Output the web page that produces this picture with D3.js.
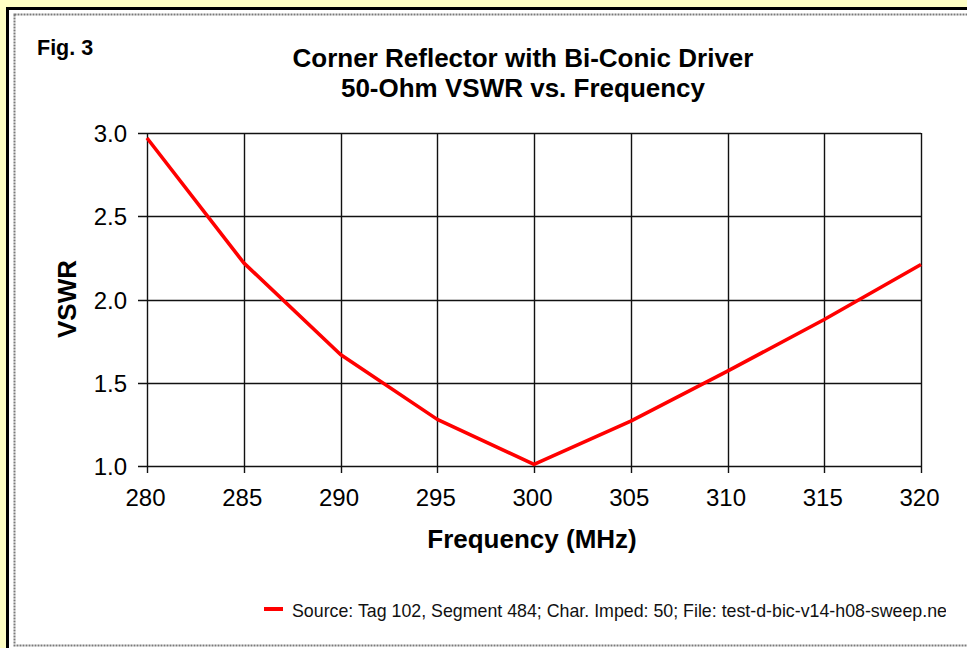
<!DOCTYPE html>
<html>
<head>
<meta charset="utf-8">
<script src="https://cdn.jsdelivr.net/npm/d3@7"></script>
<style>
  html, body { margin: 0; padding: 0; background: #FFFFC4; }
  svg { display: block; }
  text { font-family: Arial, "Liberation Sans", sans-serif; }
</style>
</head>
<body>
<script>
const freqs = [280, 285, 290, 295, 300, 305, 310, 315, 320];
const vswr  = [2.97, 2.22, 1.67, 1.28, 1.01, 1.27, 1.57, 1.88, 2.21];
const xTicks = [280, 285, 290, 295, 300, 305, 310, 315, 320];
const yTicks = [1.0, 1.5, 2.0, 2.5, 3.0];
const titleLines = ["Corner Reflector with Bi-Conic Driver", "50-Ohm VSWR vs. Frequency"];
const figLabel = "Fig. 3";
const xTitle = "Frequency (MHz)";
const yTitle = "VSWR";
const legendText = "Source: Tag 102, Segment 484; Char. Imped: 50; File: test-d-bic-v14-h08-sweep.nec";

const W = 967, H = 648;
const svg = d3.select("body").append("svg").attr("width", W).attr("height", H);

// background frame
svg.append("rect").attr("x", 0).attr("y", 0).attr("width", W).attr("height", H).attr("fill", "#FFFFC4");
svg.append("rect").attr("x", 6).attr("y", 7).attr("width", W + 20).attr("height", H + 20).attr("fill", "#000");
svg.append("rect").attr("x", 9).attr("y", 10).attr("width", W + 20).attr("height", H + 20).attr("fill", "#fff");
svg.append("rect").attr("x", 14.5).attr("y", 14.5).attr("width", W + 20).attr("height", 631)
  .attr("fill", "none").attr("stroke", "#7a7a7a").attr("stroke-width", 2).attr("stroke-dasharray", "2,1");

const m = { left: 147, right: 921, top: 133, bottom: 466 };
const x = d3.scaleLinear().domain([280, 320]).range([m.left, m.right]);
const y = d3.scaleLinear().domain([1.0, 3.0]).range([m.bottom, m.top]);

// gridlines
const grid = svg.append("g");
grid.selectAll("line.v").data(xTicks).enter().append("line")
  .attr("x1", d => Math.round(x(d)) + 0.5).attr("x2", d => Math.round(x(d)) + 0.5)
  .attr("y1", m.top).attr("y2", m.bottom + 7)
  .attr("stroke", "#111").attr("stroke-width", 1.4);
grid.selectAll("line.h").data(yTicks).enter().append("line")
  .attr("y1", d => Math.round(y(d)) + 0.5).attr("y2", d => Math.round(y(d)) + 0.5)
  .attr("x1", m.left - 9).attr("x2", m.right)
  .attr("stroke", "#111").attr("stroke-width", 1.4);

// axes labels via d3 axes (no domain/tick lines)
const xAxis = svg.append("g").attr("transform", `translate(0,${m.bottom})`)
  .call(d3.axisBottom(x).tickValues(xTicks).tickFormat(d3.format("d")).tickSize(0).tickPadding(40));
xAxis.select(".domain").remove();
xAxis.selectAll("text").attr("font-size", 24).attr("fill", "#000")
  .attr("font-family", "Arial, 'Liberation Sans', sans-serif").attr("dy", 0).attr("x", -2);

const yAxis = svg.append("g").attr("transform", `translate(${m.left},0)`)
  .call(d3.axisLeft(y).tickValues(yTicks).tickFormat(d3.format(".1f")).tickSize(0).tickPadding(20));
yAxis.select(".domain").remove();
yAxis.selectAll("text").attr("font-size", 24).attr("fill", "#000")
  .attr("font-family", "Arial, 'Liberation Sans', sans-serif").attr("dy", "0.36em");

// series line
const line = d3.line().x((d, i) => x(freqs[i])).y(d => y(d));
svg.append("path").datum(vswr).attr("d", line)
  .attr("fill", "none").attr("stroke", "#ff0000").attr("stroke-width", 3.6)
  .attr("stroke-linejoin", "round");

// titles
svg.append("text").attr("x", 37).attr("y", 55).attr("font-size", 21.5).attr("font-weight", "bold").text(figLabel);
titleLines.forEach((t, i) => {
  svg.append("text").attr("x", 523).attr("y", 67 + i * 30).attr("text-anchor", "middle")
    .attr("font-size", 26).attr("font-weight", "bold").text(t);
});
svg.append("text").attr("x", 532).attr("y", 548).attr("text-anchor", "middle")
  .attr("font-size", 26).attr("font-weight", "bold").text(xTitle);
svg.append("text").attr("transform", "translate(76,299) rotate(-90)").attr("text-anchor", "middle")
  .attr("font-size", 26).attr("font-weight", "bold").text(yTitle);

// legend
svg.append("defs").append("clipPath").attr("id", "legclip")
  .append("rect").attr("x", 250).attr("y", 590).attr("width", 696).attr("height", 40);
svg.append("line").attr("x1", 264).attr("x2", 283).attr("y1", 609).attr("y2", 609)
  .attr("stroke", "#ff0000").attr("stroke-width", 4);
svg.append("text").attr("x", 292).attr("y", 617).attr("font-size", 17.8).attr("fill", "#111")
  .attr("clip-path", "url(#legclip)").text(legendText);
</script>
</body>
</html>
